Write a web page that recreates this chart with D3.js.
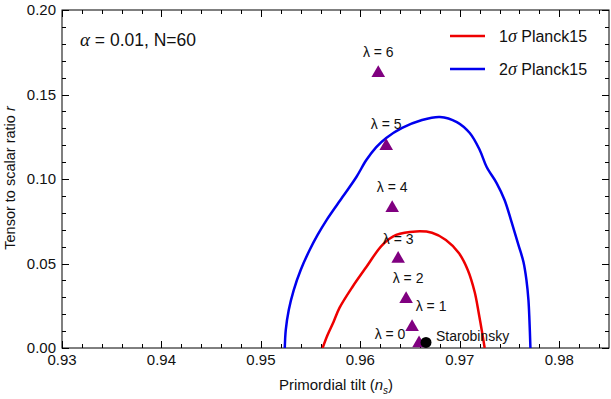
<!DOCTYPE html>
<html>
<head>
<meta charset="utf-8">
<script src="https://cdn.jsdelivr.net/npm/d3@7"></script>
<style>
    body { margin: 0; background: #fff; }
    svg { display: block; }
    text { font-family: "Liberation Sans", Arial, sans-serif; }
    .greek { font-family: "Liberation Serif", "Times New Roman", serif; font-style: italic; }
</style>
</head>
<body>
<script>
// --- DATA ---

// lambda points (n_s, r)
const lambdas = [0, 1, 2, 3, 4, 5, 6];
const lambdaNs = [0.9659, 0.9652, 0.9646, 0.9638, 0.9632, 0.9626, 0.9618];
const lambdaR = [0.0028, 0.0124, 0.029, 0.0527, 0.0828, 0.1195, 0.1627];

// Starobinsky point
const staroNs = 0.9666;
const staroR = 0.0033;

// 1 sigma contour (red)
const sigma1Ns = [0.9562, 0.9567, 0.9573, 0.9579, 0.9592, 0.9606, 0.9622, 0.9636, 0.9656, 0.9672, 0.9686, 0.9699, 0.9708, 0.9715, 0.9719, 0.9722, 0.9725];
const sigma1R = [0.0, 0.0077, 0.0154, 0.0237, 0.0361, 0.0479, 0.0609, 0.0669, 0.0690, 0.0682, 0.0639, 0.0562, 0.0462, 0.0330, 0.0207, 0.0107, 0.0];

// 2 sigma contour (blue)
const sigma2Ns = [0.9524, 0.9525, 0.9528, 0.9533, 0.9540, 0.9549, 0.9557, 0.9566, 0.9582, 0.9596, 0.9606, 0.9616, 0.9626, 0.9642, 0.9662, 0.9680, 0.9697, 0.9710, 0.9720, 0.9727, 0.9737, 0.9745, 0.9752, 0.9759, 0.9764, 0.9767, 0.9769, 0.9770, 0.9771];
const sigma2R = [0.0, 0.0107, 0.0225, 0.0343, 0.0462, 0.0580, 0.0669, 0.0757, 0.0893, 0.1012, 0.1112, 0.1189, 0.1243, 0.1302, 0.1349, 0.1367, 0.1337, 0.1272, 0.1172, 0.1071, 0.0976, 0.0876, 0.0746, 0.0609, 0.0509, 0.0402, 0.0284, 0.0166, 0.0];

// ticks
const xTicks = [0.93, 0.94, 0.95, 0.96, 0.97, 0.98];
const yTicks = [0, 0.05, 0.10, 0.15, 0.20];

// --- D3 ---

const svg = d3.select('body').append('svg')
    .attr('width', 611)
    .attr('height', 399);

const margin = { top: 10, right: 2, bottom: 51, left: 62 };
const innerWidth = 611 - margin.left - margin.right;
const innerHeight = 399 - margin.top - margin.bottom;

const xScale = d3.scaleLinear().domain([0.93, 0.985]).range([0, innerWidth]);
const yScale = d3.scaleLinear().domain([0, 0.2]).range([innerHeight, 0]);

const g = svg.append('g')
    .attr('transform', `translate(${margin.left}, ${margin.top})`);

g.append('clipPath').attr('id', 'clip')
    .append('rect').attr('width', innerWidth).attr('height', innerHeight);

// frame
g.append('rect')
    .attr('width', innerWidth)
    .attr('height', innerHeight)
    .attr('fill', 'none')
    .attr('stroke', '#000')
    .attr('stroke-width', 1);

// ticks on all four sides (inside)
const xMinor = d3.range(0.93, 0.9851, 0.002);
const yMinor = d3.range(0, 0.2001, 0.01);

function isMajor(v, step) {
    return Math.abs(v / step - Math.round(v / step)) < 1e-6;
}

xMinor.forEach(v => {
    const len = isMajor(v, 0.01) ? 7 : 4;
    const x = Math.round(xScale(v)) + 0.5;
    g.append('line').attr('x1', x).attr('x2', x).attr('y1', innerHeight).attr('y2', innerHeight - len).attr('stroke', '#000');
    g.append('line').attr('x1', x).attr('x2', x).attr('y1', 0).attr('y2', len).attr('stroke', '#000');
});
yMinor.forEach(v => {
    const len = isMajor(v, 0.05) ? 7 : 4;
    const y = Math.round(yScale(v)) + 0.5;
    g.append('line').attr('x1', 0).attr('x2', len).attr('y1', y).attr('y2', y).attr('stroke', '#000');
    g.append('line').attr('x1', innerWidth).attr('x2', innerWidth - len).attr('y1', y).attr('y2', y).attr('stroke', '#000');
});

// tick labels
g.selectAll('.xlab')
    .data(xTicks)
    .enter()
    .append('text')
    .attr('x', d => xScale(d))
    .attr('y', innerHeight + 17)
    .attr('text-anchor', 'middle')
    .attr('font-size', 15)
    .attr('fill', '#111')
    .text(d => d3.format('.2f')(d));

g.selectAll('.ylab')
    .data(yTicks)
    .enter()
    .append('text')
    .attr('x', -6)
    .attr('y', d => yScale(d) + 5)
    .attr('text-anchor', 'end')
    .attr('font-size', 15)
    .attr('fill', '#111')
    .text(d => d3.format('.2f')(d));

// axis titles
const xTitle = svg.append('text')
    .attr('x', 336)
    .attr('y', 390)
    .attr('text-anchor', 'middle')
    .attr('font-size', 15)
    .attr('fill', '#111');
xTitle.append('tspan').text('Primordial tilt (');
xTitle.append('tspan').attr('font-style', 'italic').text('n');
xTitle.append('tspan').attr('font-style', 'italic').attr('font-size', 10).attr('dy', 4).text('s');
xTitle.append('tspan').attr('dy', -4).text(')');

const yTitle = svg.append('text')
    .attr('transform', 'translate(15, 178) rotate(-90)')
    .attr('text-anchor', 'middle')
    .attr('font-size', 14.5)
    .attr('fill', '#111');
yTitle.append('tspan').text('Tensor to scalar ratio ');
yTitle.append('tspan').attr('font-style', 'italic').text('r');

// contours
const line = d3.line()
    .x(d => xScale(d[0]))
    .y(d => yScale(d[1]))
    .curve(d3.curveCatmullRom.alpha(0.5));

const plot = g.append('g').attr('clip-path', 'url(#clip)');

plot.append('path')
    .datum(d3.zip(sigma2Ns, sigma2R))
    .attr('d', line)
    .attr('fill', 'none')
    .attr('stroke', '#0000ee')
    .attr('stroke-width', 2.5);

plot.append('path')
    .datum(d3.zip(sigma1Ns, sigma1R))
    .attr('d', line)
    .attr('fill', 'none')
    .attr('stroke', '#ee0000')
    .attr('stroke-width', 2.5);

// lambda triangles
const points = lambdas.map((l, i) => ({ lambda: l, ns: lambdaNs[i], r: lambdaR[i] }));

plot.selectAll('.tri')
    .data(points)
    .enter()
    .append('path')
    .attr('d', d3.symbol().type(d3.symbolTriangle).size(80))
    .attr('transform', d => `translate(${xScale(d.ns)}, ${yScale(d.r)})`)
    .attr('fill', '#800080');

// label offsets (dx, dy) per lambda
const labelOffset = { 0: [-29, -4], 1: [19, -16], 2: [2, -16], 3: [0, -15], 4: [0, -16], 5: [0, -17], 6: [0, -16] };

g.selectAll('.lab')
    .data(points)
    .enter()
    .append('text')
    .attr('x', d => xScale(d.ns) + labelOffset[d.lambda][0])
    .attr('y', d => yScale(d.r) + labelOffset[d.lambda][1])
    .attr('text-anchor', 'middle')
    .attr('font-family', '"Liberation Serif", "Times New Roman", serif')
    .attr('font-size', 14)
    .attr('fill', '#111')
    .text(d => 'λ = ' + d.lambda);

// Starobinsky
plot.append('circle')
    .attr('cx', xScale(staroNs))
    .attr('cy', yScale(staroR))
    .attr('r', 5.5)
    .attr('fill', '#000');

g.append('text')
    .attr('x', xScale(staroNs) + 10)
    .attr('y', yScale(staroR) - 1)
    .attr('font-size', 14)
    .attr('fill', '#111')
    .text('Starobinsky');

// alpha, N annotation
const ann = g.append('text')
    .attr('x', 18)
    .attr('y', 36)
    .attr('font-size', 17.5)
    .attr('fill', '#111');
ann.append('tspan').attr('class', 'greek').attr('font-size', 19).text('α');
ann.append('tspan').text(' = 0.01, N=60');

// legend
const legend = [
    { color: '#ee0000', label: '1', y: 36 },
    { color: '#0000ee', label: '2', y: 69 }
];
legend.forEach(d => {
    svg.append('line')
        .attr('x1', 450).attr('x2', 485)
        .attr('y1', d.y).attr('y2', d.y)
        .attr('stroke', d.color)
        .attr('stroke-width', 2.5);
    const t = svg.append('text')
        .attr('x', 499)
        .attr('y', d.y + 5.5)
        .attr('font-size', 16)
        .attr('fill', '#111');
    t.append('tspan').text(d.label);
    t.append('tspan').attr('class', 'greek').attr('font-size', 18).text('σ');
    t.append('tspan').text(' Planck15');
});
</script>
</body>
</html>
